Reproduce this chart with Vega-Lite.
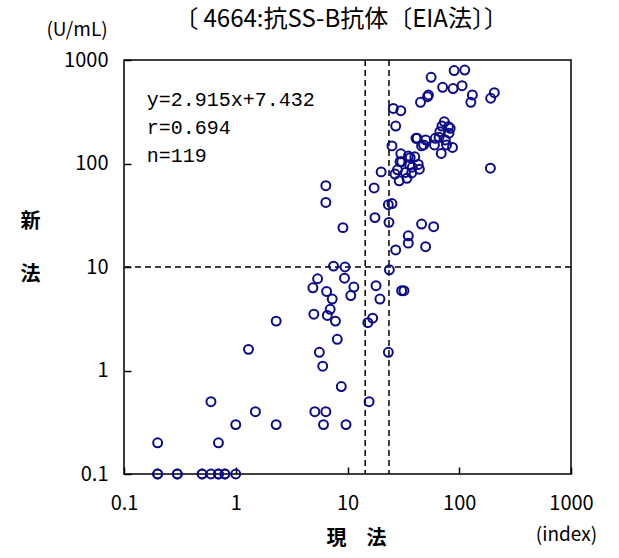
{
  "$schema": "https://vega.github.io/schema/vega-lite/v6.json",
  "width": 447,
  "height": 414,
  "autosize": {"type": "none"},
  "padding": {"left": 124, "top": 60, "right": 48, "bottom": 84},
  "config": {
    "font": "Noto Sans CJK JP",
    "view": {"stroke": "#000000", "strokeWidth": 1.5},
    "axis": {"grid": false, "domain": false, "labelColor": "#000000", "titleColor": "#000000", "tickColor": "#000000"}
  },
  "datasets": {
    "pts": [
      {"x": 0.2, "y": 0.1}, {"x": 0.2, "y": 0.1}, {"x": 0.3, "y": 0.1}, {"x": 0.5, "y": 0.1},
      {"x": 0.5, "y": 0.1}, {"x": 0.6, "y": 0.1}, {"x": 0.7, "y": 0.1}, {"x": 0.7, "y": 0.1},
      {"x": 0.8, "y": 0.1}, {"x": 1.0, "y": 0.1}, {"x": 0.3, "y": 0.1}, {"x": 0.8, "y": 0.1},
      {"x": 0.2, "y": 0.2}, {"x": 0.7, "y": 0.2}, {"x": 1.0, "y": 0.3}, {"x": 0.6, "y": 0.5},
      {"x": 1.5, "y": 0.4}, {"x": 2.3, "y": 0.3}, {"x": 1.3, "y": 1.6}, {"x": 2.3, "y": 3.0},
      {"x": 5.1, "y": 0.4}, {"x": 6.4, "y": 0.4}, {"x": 6.1, "y": 0.3}, {"x": 9.7, "y": 0.3},
      {"x": 8.8, "y": 0.7}, {"x": 5.6, "y": 1.5}, {"x": 6.0, "y": 1.1}, {"x": 8.1, "y": 2.0},
      {"x": 5.0, "y": 3.5}, {"x": 6.6, "y": 3.4}, {"x": 7.8, "y": 3.0}, {"x": 7.0, "y": 3.9},
      {"x": 7.3, "y": 4.9}, {"x": 6.5, "y": 5.8}, {"x": 4.9, "y": 6.3}, {"x": 5.4, "y": 7.7},
      {"x": 7.5, "y": 10.2}, {"x": 9.5, "y": 10.0}, {"x": 9.4, "y": 7.8}, {"x": 11.4, "y": 6.4},
      {"x": 10.7, "y": 5.3}, {"x": 18, "y": 6.6}, {"x": 19.5, "y": 4.9}, {"x": 30.5, "y": 5.9},
      {"x": 32, "y": 5.9}, {"x": 23.7, "y": 9.4}, {"x": 16.8, "y": 3.2}, {"x": 15.2, "y": 2.9},
      {"x": 23.2, "y": 1.5}, {"x": 15.6, "y": 0.5},
      {"x": 6.4, "y": 61}, {"x": 6.4, "y": 42}, {"x": 9.1, "y": 24}, {"x": 17.3, "y": 58},
      {"x": 17.6, "y": 30}, {"x": 23.5, "y": 27}, {"x": 23.2, "y": 40}, {"x": 25, "y": 41},
      {"x": 20, "y": 83}, {"x": 27, "y": 14.6}, {"x": 35, "y": 20}, {"x": 35, "y": 17},
      {"x": 46, "y": 26}, {"x": 59, "y": 24.5}, {"x": 50, "y": 15.7}, {"x": 190, "y": 90},
      {"x": 90, "y": 790}, {"x": 112, "y": 800}, {"x": 56, "y": 680}, {"x": 71, "y": 545},
      {"x": 88, "y": 530}, {"x": 106, "y": 565}, {"x": 131, "y": 460}, {"x": 127, "y": 390},
      {"x": 206, "y": 483}, {"x": 191, "y": 427}, {"x": 52, "y": 442}, {"x": 45, "y": 390},
      {"x": 25.7, "y": 340}, {"x": 30, "y": 324}, {"x": 27, "y": 230}, {"x": 25, "y": 148},
      {"x": 73.5, "y": 253}, {"x": 70, "y": 230}, {"x": 83, "y": 219}, {"x": 81, "y": 196},
      {"x": 66, "y": 179}, {"x": 42, "y": 175}, {"x": 50, "y": 169}, {"x": 48, "y": 151},
      {"x": 60, "y": 151}, {"x": 77, "y": 151}, {"x": 87, "y": 143}, {"x": 69, "y": 125},
      {"x": 30, "y": 124}, {"x": 35, "y": 118}, {"x": 40, "y": 116}, {"x": 29.5, "y": 104},
      {"x": 43, "y": 98}, {"x": 26.6, "y": 79}, {"x": 29, "y": 68}, {"x": 34, "y": 72},
      {"x": 37.5, "y": 81}, {"x": 44, "y": 88}, {"x": 28, "y": 87}, {"x": 36, "y": 97},
      {"x": 46, "y": 148}, {"x": 67, "y": 203}, {"x": 80, "y": 227}, {"x": 75, "y": 169},
      {"x": 61, "y": 175}, {"x": 33, "y": 82}, {"x": 36.4, "y": 114}, {"x": 30.6, "y": 104},
      {"x": 41, "y": 175}, {"x": 53, "y": 459}, {"x": 38, "y": 92}
    ],
    "vref": [{"x": 14.4}, {"x": 23.5}],
    "href": [{"y": 10}],
    "stats": [
      {"x": 0.16, "y": 411, "t": "y=2.915x+7.432"},
      {"x": 0.16, "y": 220, "t": "r=0.694"},
      {"x": 0.16, "y": 118, "t": "n=119"}
    ],
    "heading": [
      {"x": 8.75, "y": 2432, "t": "〔 4664:抗SS-B抗体〔EIA法〕〕"}
    ],
    "units": [
      {"x": 0.038, "y": 1950, "t": "(U/mL)"},
      {"x": 910, "y": 0.0258, "t": "(index)"}
    ]
  },
  "layer": [
    {
      "data": {"name": "vref"},
      "mark": {"type": "rule", "color": "#000000", "strokeWidth": 1.5, "strokeDash": [6, 4]},
      "encoding": {"x": {"field": "x", "type": "quantitative"}}
    },
    {
      "data": {"name": "href"},
      "mark": {"type": "rule", "color": "#000000", "strokeWidth": 1.5, "strokeDash": [6, 4]},
      "encoding": {"y": {"field": "y", "type": "quantitative"}}
    },
    {
      "data": {"name": "pts"},
      "mark": {"type": "point", "shape": "circle", "filled": false, "size": 80, "strokeWidth": 2, "color": "#0c0c8a", "opacity": 1},
      "encoding": {
        "x": {
          "field": "x", "type": "quantitative",
          "scale": {"type": "log", "domain": [0.1, 1000]},
          "axis": {
            "values": [0.1, 1, 10, 100, 1000], "format": "~g",
            "tickSize": -7, "tickWidth": 1.5, "labelFontSize": 20, "labelPadding": 26,
            "labelFlush": false,
            "title": "現　法", "titleFontSize": 20, "titleFontWeight": "bold",
            "titleX": 232, "titleY": 64, "titleBaseline": "middle"
          }
        },
        "y": {
          "field": "y", "type": "quantitative",
          "scale": {"type": "log", "domain": [0.1, 1000]},
          "axis": {
            "values": [0.1, 1, 10, 100, 1000], "format": "~g",
            "tickSize": -7, "tickWidth": 1.5, "labelFontSize": 20, "labelPadding": 23,
            "labelFlush": false,
            "title": ["新", "法"], "titleFontSize": 20, "titleFontWeight": "bold",
            "titleAngle": 0, "titleX": -94, "titleY": 151, "titleBaseline": "top",
            "titleAlign": "center", "titleLineHeight": 53
          }
        }
      }
    },
    {
      "data": {"name": "stats"},
      "mark": {"type": "text", "align": "left", "baseline": "middle", "font": "Liberation Mono", "fontSize": 20, "color": "#000000"},
      "encoding": {
        "x": {"field": "x", "type": "quantitative"},
        "y": {"field": "y", "type": "quantitative"},
        "text": {"field": "t"}
      }
    },
    {
      "data": {"name": "heading"},
      "mark": {"type": "text", "align": "center", "baseline": "middle", "fontSize": 24, "color": "#000000"},
      "encoding": {
        "x": {"field": "x", "type": "quantitative"},
        "y": {"field": "y", "type": "quantitative"},
        "text": {"field": "t"}
      }
    },
    {
      "data": {"name": "units"},
      "mark": {"type": "text", "align": "center", "baseline": "middle", "fontSize": 19, "color": "#000000"},
      "encoding": {
        "x": {"field": "x", "type": "quantitative"},
        "y": {"field": "y", "type": "quantitative"},
        "text": {"field": "t"}
      }
    }
  ]
}
